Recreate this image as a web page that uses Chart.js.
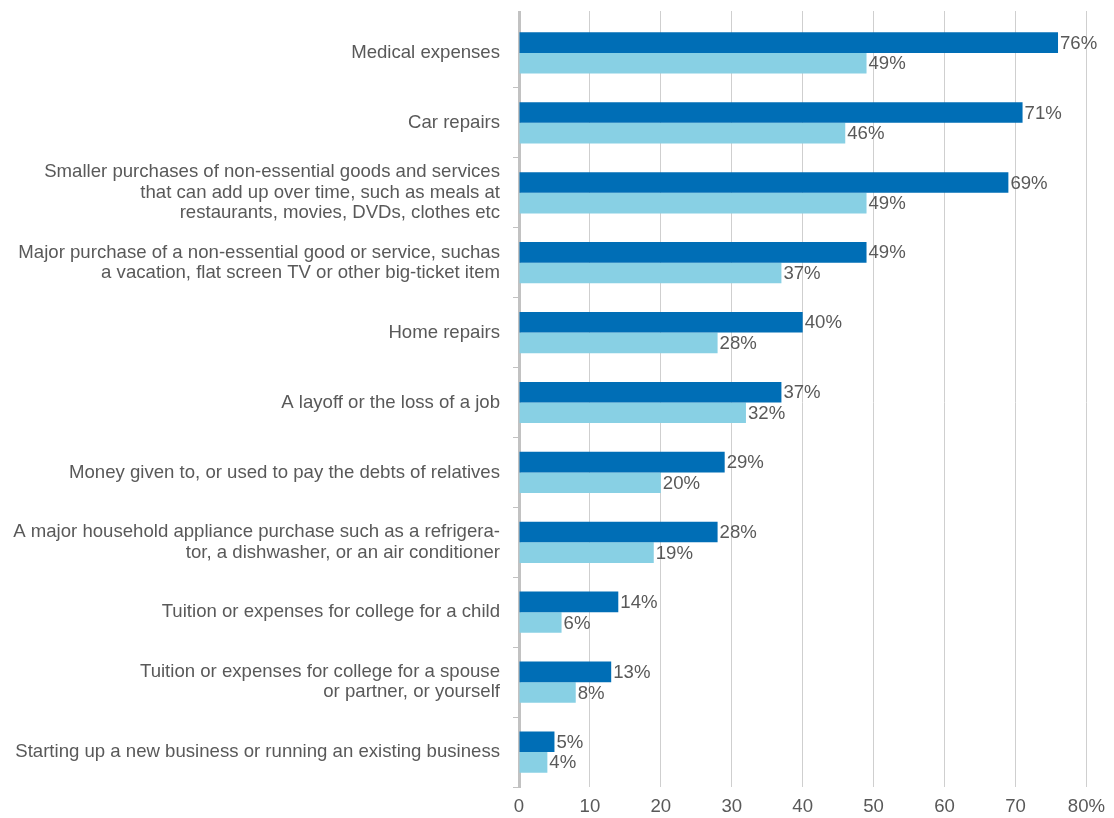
<!DOCTYPE html>
<html>
<head>
<meta charset="utf-8">
<script src="https://cdn.jsdelivr.net/npm/chart.js@4/dist/chart.umd.min.js"></script>
<style>
  body { margin: 0; background: #fff; }
  #wrap { width: 1114px; height: 818px; }
</style>
</head>
<body>
<div id="wrap"><canvas id="expenseChart" width="1114" height="818"></canvas></div>
<script>
// categories, top to bottom
const categories = [
   "Medical expenses",
   "Car repairs",
   ["Smaller purchases of non-essential goods and services", "that can add up over time, such as meals at", "restaurants, movies, DVDs, clothes etc"],
   ["Major purchase of a non-essential good or service, suchas", "a vacation, flat screen TV or other big-ticket item"],
   "Home repairs",
   "A layoff or the loss of a job",
   "Money given to, or used to pay the debts of relatives",
   ["A major household appliance purchase such as a refrigera-", "tor, a dishwasher, or an air conditioner"],
   "Tuition or expenses for college for a child",
   ["Tuition or expenses for college for a spouse", "or partner, or yourself"],
   "Starting up a new business or running an existing business",
];

// percent values, dark series and light series
const darkValues = [76, 71, 69, 49, 40, 37, 29, 28, 14, 13, 5];
const lightValues = [49, 46, 49, 37, 28, 32, 20, 19, 6, 8, 4];

const xTicks = [0, 10, 20, 30, 40, 50, 60, 70, 80];

const FONT = "'Liberation Sans', Arial, Helvetica, sans-serif";
const FSIZE = 18.6;
const TEXT = "#595959";
const GRID = "#cfcfcf";
const AXIS = "#c2c2c2";

// same rounding Chart.js uses for crisp lines
function align(px, w) {
   return Math.round(px - w / 2) + w / 2;
}

// writes "NN%" just past the end of every bar
const valueLabels = {
   id: "valueLabels",
   afterDatasetsDraw(chart) {
      const ctx = chart.ctx;
      ctx.save();
      ctx.font = FSIZE + "px " + FONT;
      ctx.fillStyle = TEXT;
      ctx.textAlign = "left";
      ctx.textBaseline = "middle";
      chart.data.datasets.forEach(function (ds, i) {
         chart.getDatasetMeta(i).data.forEach(function (bar, j) {
            ctx.fillText(ds.data[j] + "%", bar.x + 2, bar.y + 1);
         });
      });
      ctx.restore();
   },
};

// gridlines and the y axis line run a little above the plot area
const axisExtend = {
   id: "axisExtend",
   afterDraw(chart) {
      const ctx = chart.ctx;
      const top = chart.chartArea.top;
      const x = chart.scales.x;
      ctx.save();
      ctx.strokeStyle = GRID;
      ctx.lineWidth = 1;
      x.ticks.forEach(function (t, i) {
         if (i === 0) return;
         const px = align(x.getPixelForTick(i), 1);
         ctx.beginPath();
         ctx.moveTo(px, top - 7);
         ctx.lineTo(px, top);
         ctx.stroke();
      });
      ctx.strokeStyle = AXIS;
      ctx.lineWidth = 3;
      ctx.beginPath();
      ctx.moveTo(align(chart.chartArea.left, 3), top - 7);
      ctx.lineTo(align(chart.chartArea.left, 3), top + 1);
      ctx.stroke();
      ctx.restore();
   },
};

const expensechart = document.getElementById("expenseChart").getContext("2d");

const expenseChart = new Chart(expensechart, {
   type: "bar",
   data: {
      labels: categories,
      datasets: [
         {
            data: darkValues,
            backgroundColor: "#006eb6",
            categoryPercentage: 0.59,
            barPercentage: 1,
         },
         {
            data: lightValues,
            backgroundColor: "#88d0e4",
            categoryPercentage: 0.59,
            barPercentage: 1,
         },
      ],
   },
   options: {
      indexAxis: "y",
      responsive: false,
      animation: false,
      layout: {
         padding: { top: 18, right: 24, bottom: 0, left: 0 },
      },
      plugins: {
         legend: { display: false },
         tooltip: { enabled: false },
      },
      scales: {
         x: {
            min: 0,
            max: 80,
            afterBuildTicks: function (scale) {
               scale.ticks = xTicks.map(function (v) { return { value: v }; });
            },
            afterFit: function (scale) {
               scale.height = 31;
            },
            grid: {
               color: GRID,
               lineWidth: 1,
               drawTicks: false,
            },
            border: { display: false },
            ticks: {
               padding: 9,
               color: TEXT,
               font: { family: FONT, size: FSIZE },
               callback: function (value) {
                  return value === 80 ? "80%" : value;
               },
            },
         },
         y: {
            afterFit: function (scale) {
               scale.width = 519;
               // labels sit mid-band, so no extra room is needed above or below
               scale.paddingTop = 0;
               scale.paddingBottom = 0;
            },
            grid: {
               offset: true,
               drawOnChartArea: false,
               tickLength: 6,
               color: function (c) {
                  return c.index === 0 || c.index === categories.length ? "rgba(0,0,0,0)" : AXIS;
               },
            },
            border: { color: AXIS, width: 3 },
            ticks: {
               padding: 13,
               color: TEXT,
               font: { family: FONT, size: FSIZE, lineHeight: 1.1 },
            },
         },
      },
   },
   plugins: [valueLabels, axisExtend],
});
</script>
</body>
</html>
